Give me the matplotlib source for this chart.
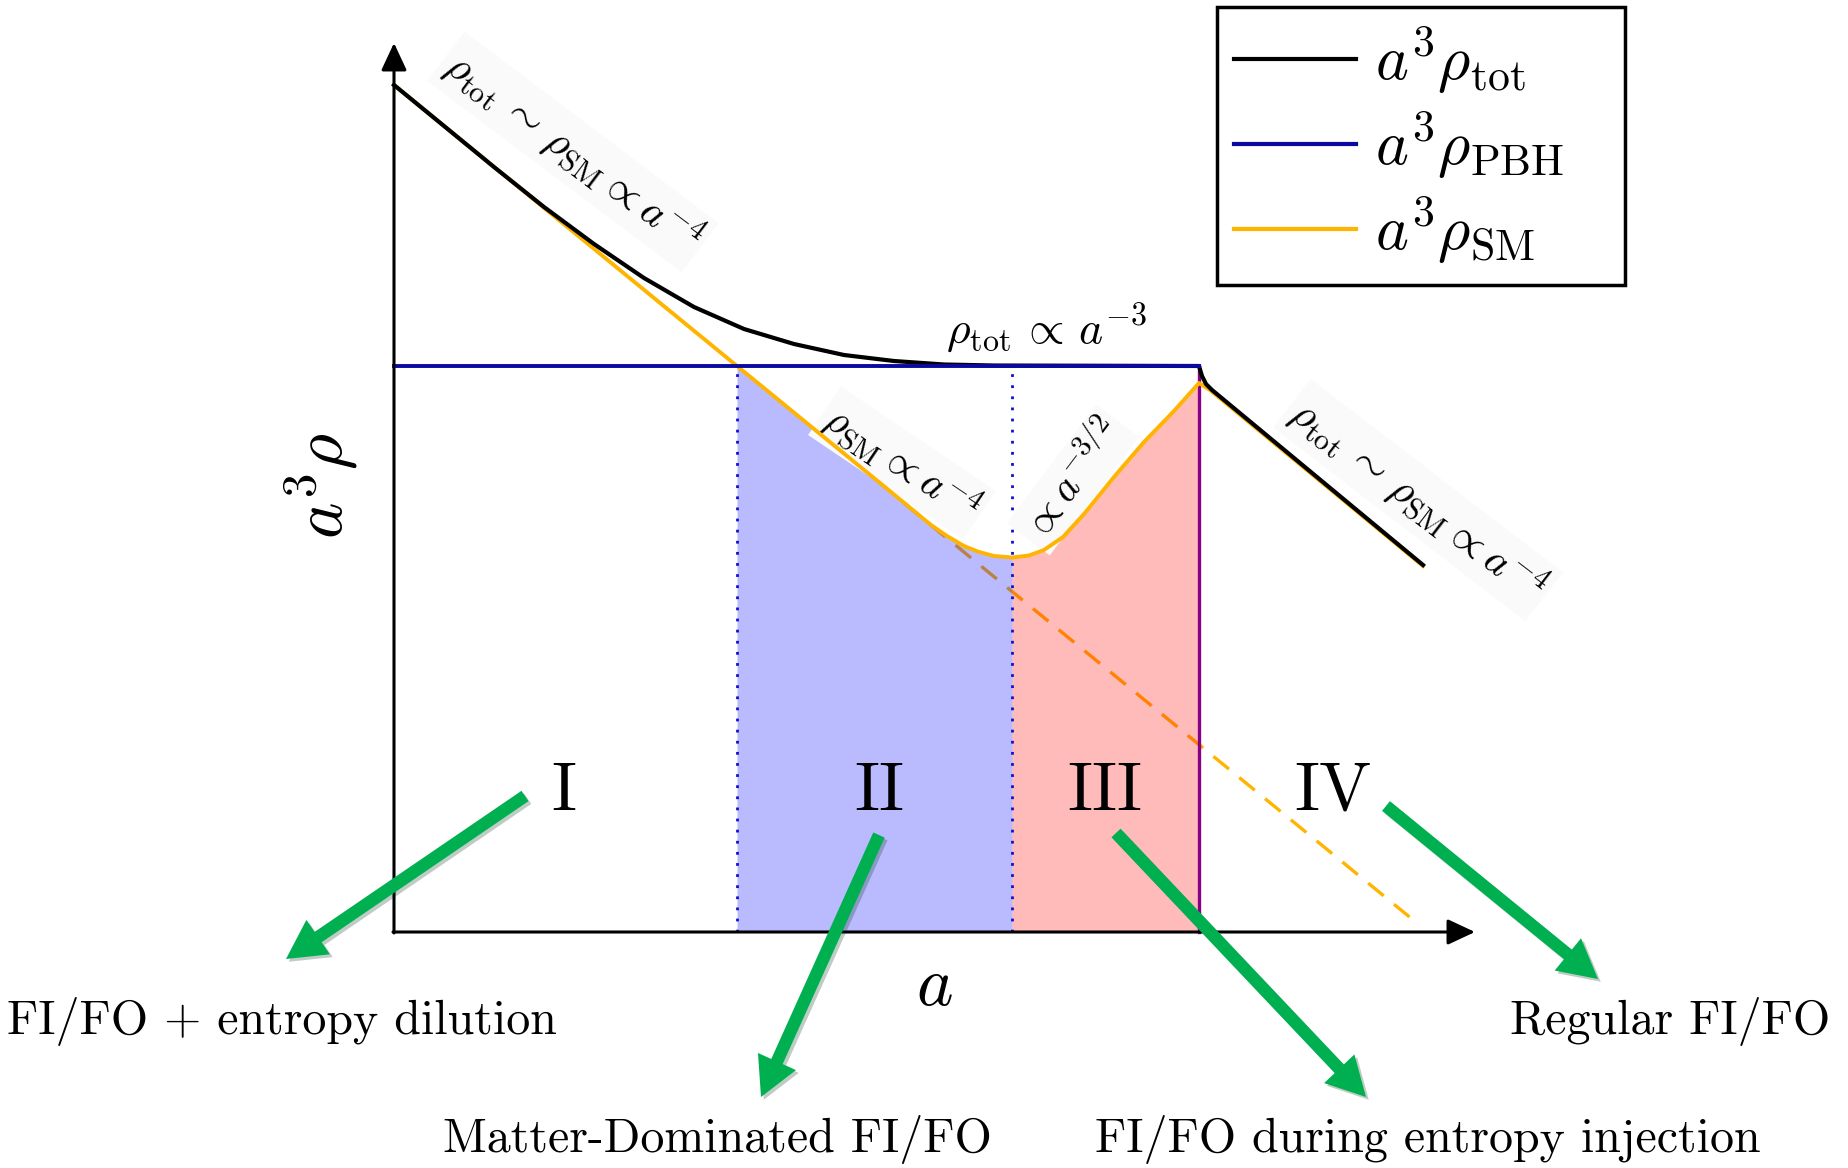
import matplotlib
matplotlib.use("Agg")
import numpy as np
import matplotlib.pyplot as plt
from matplotlib import patheffects as pe

plt.rcParams["mathtext.fontset"] = "cm"
plt.rcParams["axes.unicode_minus"] = False

# ---- schematic values: x = log a, y = log(a^3 rho) (arbitrary units) ----
tot_x = [0.0, 1.0, 1.5, 2.0, 2.5, 3.0, 3.5, 4.0, 4.5, 5.0, 5.5, 6.0, 8.05,
         8.08, 8.12, 8.18, 10.29]
tot_y = [8.47, 7.65, 7.25, 6.88, 6.54, 6.25, 6.03, 5.88, 5.77, 5.71, 5.675,
         5.665, 5.66, 5.56, 5.48, 5.42, 3.67]

pbh_x = [0.0, 8.05]
pbh_y = [5.66, 5.66]

sm_x = [0.0, 3.43, 4.86, 5.37, 5.53, 5.7, 5.85, 6.0, 6.18, 6.35, 6.5, 6.69,
        6.9, 7.2, 7.5, 7.8, 8.05, 8.16, 10.29]
sm_y = [8.47, 5.66, 4.49, 4.07, 3.96, 3.86, 3.80, 3.76, 3.745, 3.765, 3.82,
        3.95, 4.18, 4.55, 4.90, 5.21, 5.49, 5.42, 3.66]

# radiation-like continuation without entropy injection
rad_x = [5.1, 10.18]
rad_y = [4.29, 0.13]

# region boundaries (log a)
a_eq = 3.43      # PBH domination starts
a_inj = 6.18     # entropy injection becomes important
a_ev = 8.05      # PBH evaporation

region_names = ["I", "II", "III", "IV"]
region_x = [1.70, 4.85, 7.11, 9.39]

scenario_texts = ["FI/FO + entropy dilution", "Matter-Dominated FI/FO",
                  "FI/FO during entropy injection", "Regular FI/FO"]
scenario_pos = [(-1.12, -0.89), (3.23, -2.08), (10.34, -2.08), (12.76, -0.89)]
arrow_tail = [(1.31, 1.36), (4.85, 0.97), (7.22, 0.99), (9.92, 1.26)]
arrow_head = [(-1.08, -0.27), (3.67, -1.65), (9.72, -1.65), (12.04, -0.47)]

BLACK = "#000000"
BLUE = "#0A0AA0"
ORANGE = "#FFB400"
GREEN = "#00B050"
PURPLE = "#880088"

W, H = 1849, 1168
fig = plt.figure(figsize=(W / 100, H / 100), dpi=100)
ax = fig.add_axes([0, 0, 1, 1])
ax.set_xlim(-3.94, 14.55)
ax.set_ylim(-2.36, 9.32)
ax.axis("off")

sm_x_arr = np.array(sm_x)
sm_y_arr = np.array(sm_y)

# dashed continuation (under the shaded regions)
ax.plot(rad_x, rad_y, color=ORANGE, lw=2.4, dashes=(6, 4), zorder=0.5)

# shaded regions II and III below rho_SM
ax.fill_between(sm_x_arr, sm_y_arr, 0, where=(sm_x_arr >= a_eq) & (sm_x_arr <= a_inj),
                color="blue", alpha=0.27, lw=0, zorder=1)
ax.fill_between(sm_x_arr, sm_y_arr, 0, where=(sm_x_arr >= a_inj) & (sm_x_arr <= a_ev),
                color="red", alpha=0.27, lw=0, zorder=1)

# boundaries
ax.plot([a_eq, a_eq], [0, pbh_y[0]], color="#1010D0", lw=2, ls=(0, (1, 3)), zorder=1.5)
ax.plot([a_inj, a_inj], [0, pbh_y[0]], color="#1010D0", lw=2, ls=(0, (1, 3)), zorder=1.5)
ax.plot([a_ev, a_ev], [0, pbh_y[0]], color=PURPLE, lw=2.4, zorder=1.5)

# curves
l_tot, = ax.plot(tot_x, tot_y, color=BLACK, lw=3.0, zorder=3,
                 solid_joinstyle="round", label=r"$a^3\rho_{\rm tot}$")
l_sm, = ax.plot(sm_x, sm_y, color=ORANGE, lw=2.8, zorder=2.9,
                solid_joinstyle="round", label=r"$a^3\rho_{\rm SM}$")
l_pbh, = ax.plot(pbh_x, pbh_y, color=BLUE, lw=2.8, zorder=3.1,
                 label=r"$a^3\rho_{\rm PBH}$")

# axes with arrow heads
arrow_kw = dict(arrowstyle="-|>,head_length=0.6,head_width=0.28",
                mutation_scale=28, color="black", lw=2.2, shrinkA=0, shrinkB=0)
ax.annotate("", xy=(10.81, 0), xytext=(-0.01, 0), arrowprops=arrow_kw, zorder=4)
ax.annotate("", xy=(0, 8.89), xytext=(0, -0.01), arrowprops=arrow_kw, zorder=4)

ax.text(5.40, -0.53, r"$a$", fontsize=50, ha="center", va="center")
ax.text(-0.73, 4.46, r"$a^3\rho$", fontsize=50, ha="center", va="center", rotation=90)

# scaling annotations
box = dict(boxstyle="square,pad=0.12", fc="#FAFAFA", ec="none")
ax.text(1.79, 7.80, r"$\rho_{\rm tot}\,\sim\,\rho_{\rm SM}\propto a^{-4}$", fontsize=31,
        rotation=-37, ha="center", va="center", bbox=box, zorder=2)
ax.text(6.53, 5.89, r"$\rho_{\rm tot}\,\propto\,a^{-3}$", fontsize=33,
        ha="center", va="baseline", bbox=dict(boxstyle="square,pad=0.05", fc="white", ec="none"),
        zorder=2)
ax.text(5.08, 4.69, r"$\rho_{\rm SM}\propto a^{-4}$", fontsize=30, rotation=-34,
        ha="center", va="center", bbox=box, zorder=2)
ax.text(6.79, 4.52, r"$\propto a^{-3/2}$", fontsize=30, rotation=53,
        ha="center", va="center", bbox=box, zorder=2)
ax.text(10.24, 4.32, r"$\rho_{\rm tot}\,\sim\,\rho_{\rm SM}\propto a^{-4}$", fontsize=31,
        rotation=-37.5, ha="center", va="center", bbox=box, zorder=2)

# region numerals
for name, x in zip(region_names, region_x):
    ax.text(x, 1.40, name, fontsize=50, family="cmr10", ha="center", va="center", zorder=5)

# arrows pointing to the scenario names
for (tx, ty), (hx, hy) in zip(arrow_tail, arrow_head):
    ax.annotate("", xy=(hx, hy), xytext=(tx, ty), zorder=6,
                arrowprops=dict(arrowstyle="simple,head_length=2.8,head_width=3.0,tail_width=0.9",
                                mutation_scale=10, fc=GREEN, ec="none", shrinkA=0, shrinkB=0,
                                path_effects=[pe.SimplePatchShadow(offset=(2, -2), alpha=0.25),
                                              pe.Normal()]))

for txt, (x, y) in zip(scenario_texts, scenario_pos):
    ax.text(x, y, txt, fontsize=34.5, family="cmr10", ha="center", va="center", zorder=6)

# legend box spanning a fixed width in the upper right
leg = ax.legend(handles=[l_tot, l_pbh, l_sm], loc="upper left", mode="expand",
                bbox_to_anchor=(1217 / W, 1 - 293 / H, 408 / W, 286 / H),
                bbox_transform=fig.transFigure,
                borderaxespad=0, fontsize=45, fancybox=False, framealpha=1,
                edgecolor="black", handlelength=1.95, handletextpad=0.3,
                labelspacing=0.2, borderpad=0.28)
leg.get_frame().set_linewidth(2.5)
for line in leg.get_lines():
    line.set_linewidth(3)

fig.savefig("out.png", dpi=100)
